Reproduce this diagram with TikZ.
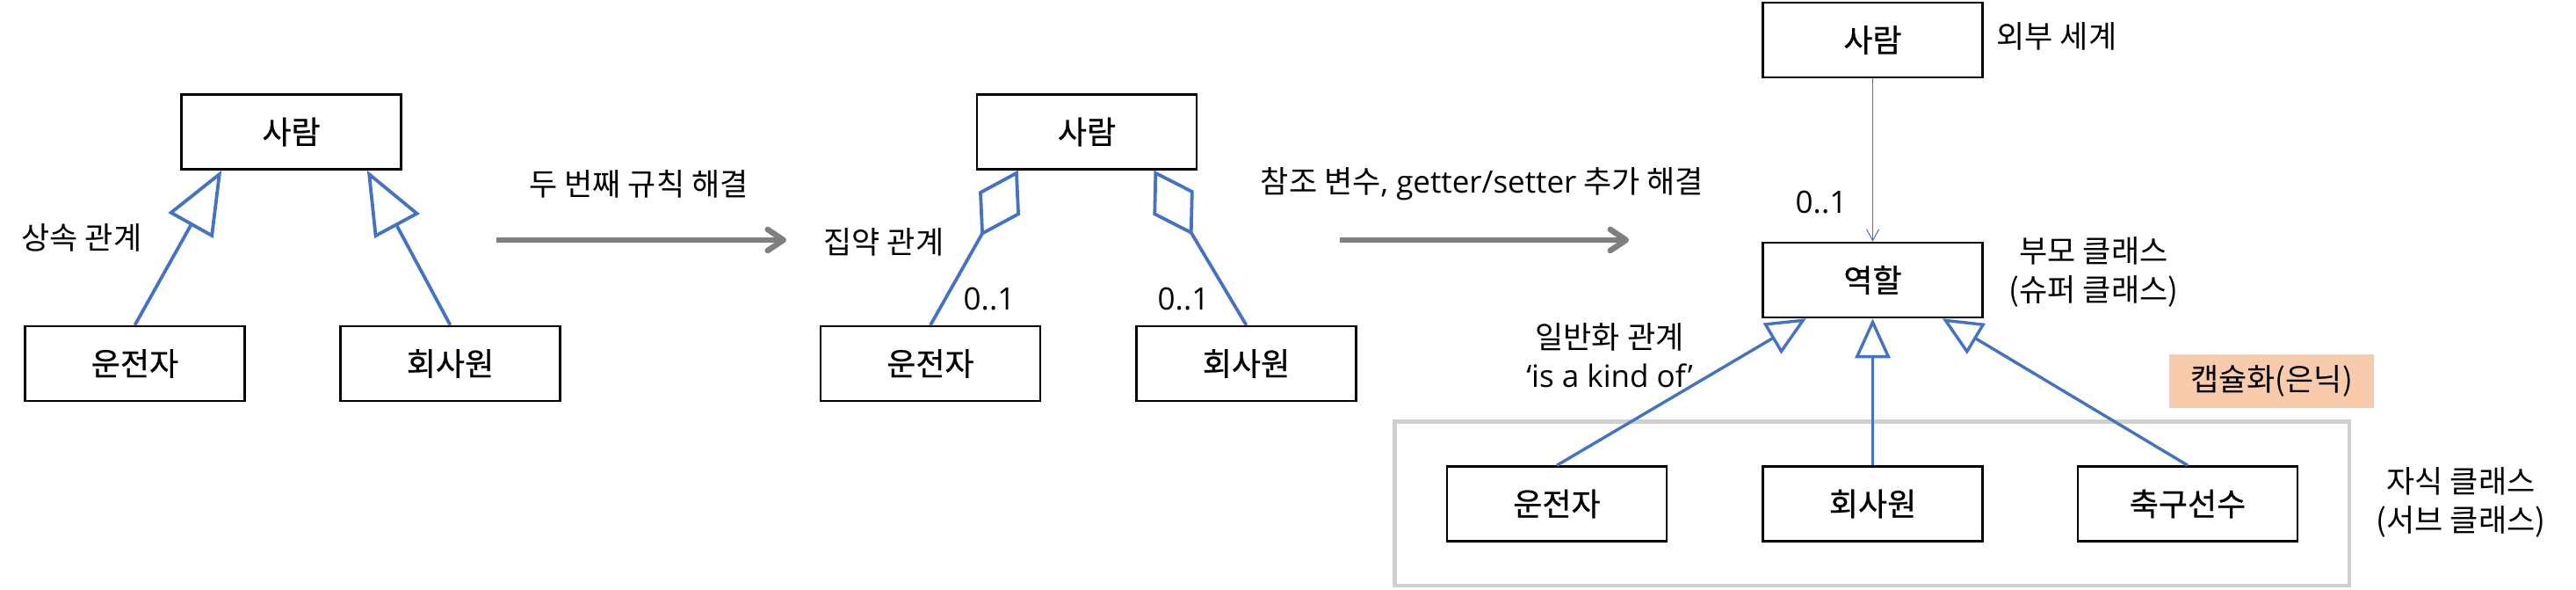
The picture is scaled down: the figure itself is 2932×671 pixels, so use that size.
\documentclass[tikz,border=0pt]{standalone}
\usepackage{fontspec}
\setmainfont{Noto Sans CJK KR}
\newfontfamily\boxfont{Noto Sans CJK KR}[FakeBold=0.6]
\newfontfamily\latin{Open Sans}
\usetikzlibrary{arrows.meta,calc}
\definecolor{blueline}{HTML}{4472C4}
\definecolor{arrowgray}{HTML}{7F7F7F}
\definecolor{framegray}{HTML}{D0CECE}
\definecolor{peach}{HTML}{F8CBAD}
\tikzset{
  cls/.style={draw=black, line width=2.5pt, minimum width=250pt, minimum height=85pt,
    inner sep=0pt, font=\boxfont\fontsize{36}{43}\selectfont},
  lbl/.style={inner sep=0pt, align=center, font=\fontsize{35}{44}\selectfont},
  genbig/.style={draw=blueline, line width=3.8pt, -{Triangle[open, length=72pt, width=58pt]}},
  gensmall/.style={draw=blueline, line width=3.4pt, -{Triangle[open, length=45pt, width=40pt]}},
  aggr/.style={draw=blueline, line width=3.8pt, -{Diamond[open, length=86pt, width=54pt]}},
  assoc/.style={draw=blueline, line width=1pt, -{Straight Barb[length=13pt, width=14pt]}},
  bigarrow/.style={draw=arrowgray, line width=6.5pt, -{Straight Barb[length=18pt, width=24pt, round]}},
}
\begin{document}
\begin{tikzpicture}[x=1pt, y=-1pt]
\useasboundingbox (0,0) rectangle (2932,671);
\fill[white] (0,0) rectangle (2932,671);

% ---------- diagram 1 ----------
\node[cls] (d1p) at (331.5,150) {사람};
\node[cls] (d1a) at (153.5,413.5) {운전자};
\node[cls] (d1b) at (512.5,413.5) {회사원};
\draw[genbig] (d1a.north) -- ($(d1p.south west)!0.186!(d1p.south east)$);
\draw[genbig] (d1b.north) -- ($(d1p.south west)!0.842!(d1p.south east)$);
\node[lbl] (l1) at (93,270) {상속 관계};

% ---------- arrow 1 ----------
\coordinate (a1s) at (565,273);
\coordinate (a1e) at (895,273);
\draw[bigarrow] (a1s) -- (a1e);
\node[lbl] (l2) at (727,209) {두 번째 규칙 해결};

% ---------- diagram 2 ----------
\node[cls] (d2p) at (1237,150) {사람};
\node[cls] (d2a) at (1059,413.5) {운전자};
\node[cls] (d2b) at (1418.5,413.5) {회사원};
\draw[aggr] (d2a.north) -- ($(d2p.south west)!0.19!(d2p.south east)$);
\draw[aggr] (d2b.north) -- ($(d2p.south west)!0.803!(d2p.south east)$);
\node[lbl] (l3) at (1006,275) {집약 관계};
\node[lbl] (m1) at (1126,340) {\latin 0..1};
\node[lbl] (m2) at (1347,340) {\latin 0..1};

% ---------- arrow 2 ----------
\coordinate (a2s) at (1525,273);
\coordinate (a2e) at (1854,273);
\draw[bigarrow] (a2s) -- (a2e);
\node[lbl] (l4) at (1687,209) {참조 변수{\latin, getter/setter} 추가 해결};

% ---------- diagram 3 ----------
\node[draw=framegray, line width=4.5pt, minimum width=1086.5pt, minimum height=186.5pt, inner sep=0pt]
  (grp) at (2130.5,572.5) {};
\node[cls] (d3p) at (2131.5,45.5) {사람};
\node[cls] (d3r) at (2131.5,318.5) {역할};
\node[cls] (d3a) at (1772,573) {운전자};
\node[cls] (d3b) at (2131.5,573) {회사원};
\node[cls] (d3c) at (2490,573) {축구선수};
\draw[assoc] (d3p.south) -- (d3r.north);
\draw[gensmall] (d3a.north) -- ($(d3r.south west)!0.2!(d3r.south east)$);
\draw[gensmall] (d3b.north) -- (d3r.south);
\draw[gensmall] (d3c.north) -- ($(d3r.south west)!0.814!(d3r.south east)$);
\node[lbl] (l5) at (2341,41) {외부 세계};
\node[lbl] (m3) at (2073,230) {\latin 0..1};
\node[lbl] (l6) at (2383,309) {부모 클래스\\(슈퍼 클래스)};
\node[lbl] (l7) at (1832,404) {일반화 관계\\{\latin ‘is a kind of’}};
\node[lbl, fill=peach, minimum width=233pt, minimum height=61pt] (l8) at (2585.5,433.5) {캡슐화(은닉)};
\node[lbl] (l9) at (2801,571) {자식 클래스\\(서브 클래스)};
\end{tikzpicture}
\end{document}
